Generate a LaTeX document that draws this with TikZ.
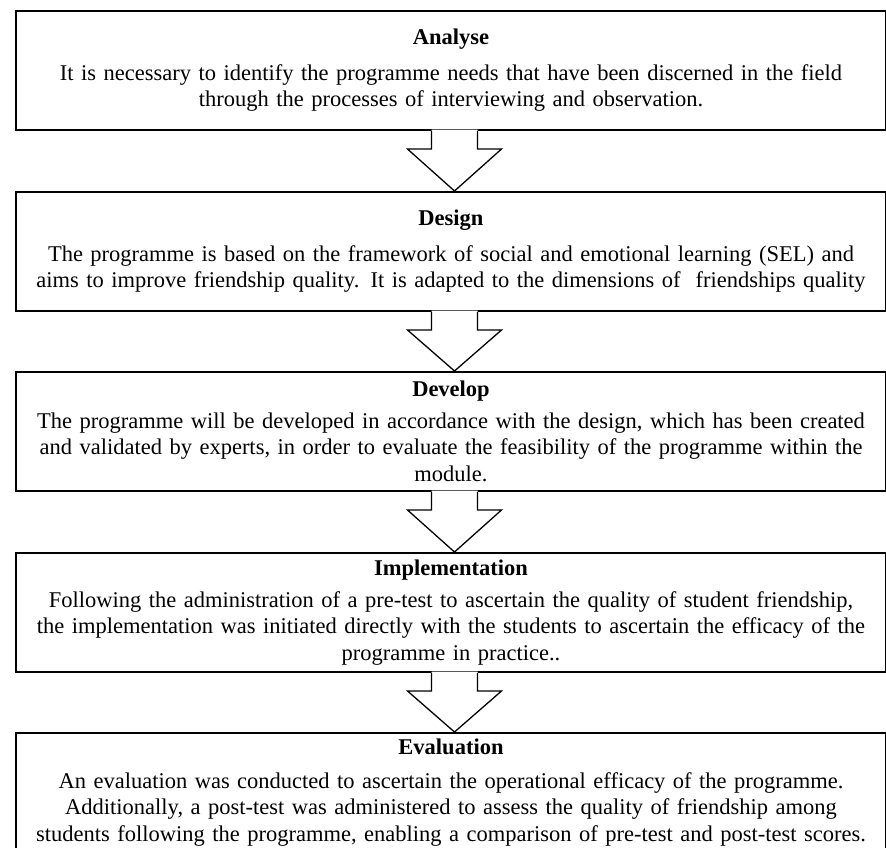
\documentclass[tikz,border=0pt]{standalone}
\usepackage{fontspec}
\setmainfont{Liberation Serif}
\usetikzlibrary{calc}
\tikzset{
  stagebox/.style={draw=black, line width=2pt, fill=white, minimum width=870pt, minimum height=119pt,
    anchor=north west, inner sep=0pt, align=center, text width=866pt,
    font=\fontsize{22.5}{26.5}\selectfont},
  blockarrow/.style={draw=black, line width=1.3pt, line join=miter},
}
\newcommand{\stagearrow}[2]{%
  \fill[white] ($(#1.south)+(-19.5,-1.5)$) -- ($(#1.south)+(-19.5,18)$) -- ($(#1.south)+(-43.5,18)$)
     -- ($(#2.north)+(3.5,0)$) -- ($(#1.south)+(50.5,18)$) -- ($(#1.south)+(26.5,18)$) -- ($(#1.south)+(26.5,-1.5)$) -- cycle;
  \draw[blockarrow] ($(#1.south)+(-19.5,0)$) -- ($(#1.south)+(-19.5,18)$) -- ($(#1.south)+(-43.5,18)$)
     -- ($(#2.north)+(3.5,0)$) -- ($(#1.south)+(50.5,18)$) -- ($(#1.south)+(26.5,18)$) -- ($(#1.south)+(26.5,0)$);
}
\begin{document}
\begin{tikzpicture}[x=1pt,y=-1pt]
\useasboundingbox (0,0) rectangle (886,847);
\clip (0,0) rectangle (886,847);
\fill[white] (0,0) rectangle (886,847);
\node[stagebox] (b1) at (15,10) {\textbf{Analyse}\\[9pt]
It is necessary to identify the programme needs that have been discerned in the field\\
through the processes of interviewing and observation.};
\node[stagebox] (b2) at (15,191) {\textbf{Design}\\[9pt]
The programme is based on the framework of social and emotional learning (SEL) and\\
aims to improve friendship quality. It is adapted to the dimensions of\ \ friendships quality};
\node[stagebox] (b3) at (15,371) {\textbf{Develop}\\[5pt]
The programme will be developed in accordance with the design, which has been created\\
and validated by experts, in order to evaluate the feasibility of the programme within the\\
module.};
\node[stagebox] (b4) at (15,552) {\textbf{Implementation}\\[5pt]
Following the administration of a pre-test to ascertain the quality of student friendship,\\
the implementation was initiated directly with the students to ascertain the efficacy of the\\
programme in practice..};
\node[stagebox] (b5) at (15,732) {\textbf{Evaluation}\\[7pt]
An evaluation was conducted to ascertain the operational efficacy of the programme.\\
Additionally, a post-test was administered to assess the quality of friendship among\\
students following the programme, enabling a comparison of pre-test and post-test scores.};
\stagearrow{b1}{b2}
\stagearrow{b2}{b3}
\stagearrow{b3}{b4}
\stagearrow{b4}{b5}
\end{tikzpicture}
\end{document}
